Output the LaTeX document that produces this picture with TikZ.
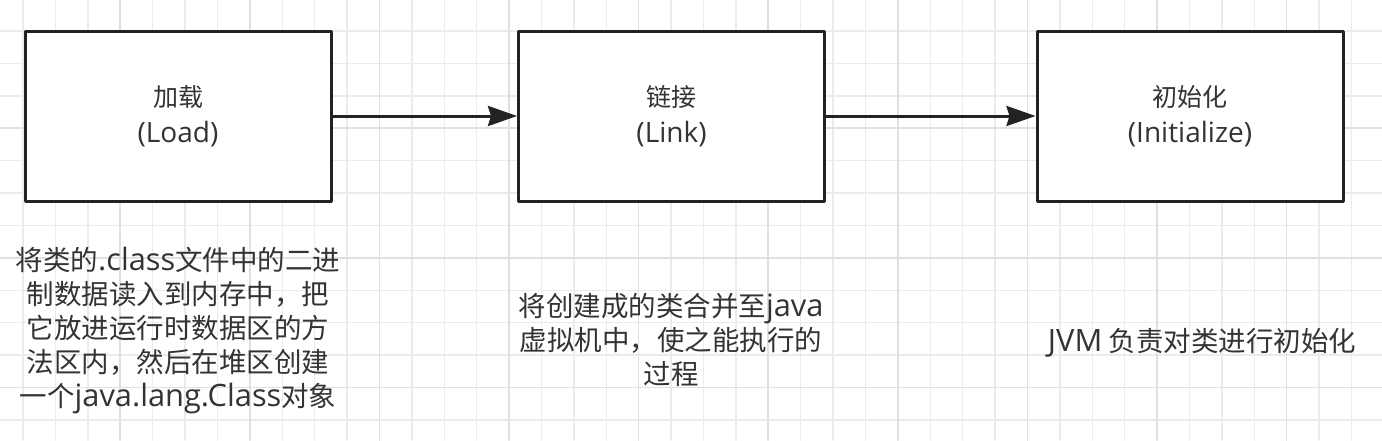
\documentclass[tikz,border=0pt]{standalone}
\usepackage{fontspec}
\setmainfont{Noto Sans CJK SC}
\newfontfamily\latn[Scale=1.12]{Open Sans}
\usetikzlibrary{arrows.meta}
\definecolor{gridgray}{HTML}{EBEBEB}
\definecolor{gridmajor}{HTML}{E0E0E0}
\definecolor{inkgray}{HTML}{333333}
\definecolor{boxline}{HTML}{222222}

\begin{document}
\begin{tikzpicture}[x=1pt,y=-1pt,>={Stealth[length=29pt,width=20pt,inset=3pt]},line cap=round,line join=round,
  stagebox/.style={draw=boxline,line width=3pt,fill=white,minimum width=306pt,minimum height=170pt,inner sep=0pt,
    align=center,text=inkgray,font=\fontsize{25}{36}\selectfont},
  note/.style={align=center,text=inkgray,inner sep=0pt,font=\fontsize{27.5}{34}\selectfont},
  flow/.style={->,draw=boxline,line width=3pt,line cap=butt}]
\useasboundingbox (0,0) rectangle (1382,440);
\fill[white] (0,0) rectangle (1382,440);
% grid
\foreach \i [evaluate=\i as \gx using 23+32.4*\i] in {0,...,42}
  \draw[gridgray,line width=1.4pt] (\gx,0) -- (\gx,440);
\foreach \j [evaluate=\j as \gy using 31+32.4*\j] in {-1,...,13}
  \draw[gridgray,line width=1.4pt] (0,\gy) -- (1382,\gy);
\foreach \i [evaluate=\i as \gx using 23+32.4*\i] in {3,7,...,42}
  \draw[gridmajor,line width=1.6pt] (\gx,0) -- (\gx,440);
\foreach \j [evaluate=\j as \gy using 31+32.4*\j] in {3,7,11}
  \draw[gridmajor,line width=1.6pt] (0,\gy) -- (1382,\gy);
% stages
\node[stagebox] (load) at (178,116) {加载\\{\latn (Load)}};
\node[stagebox] (link) at (671.5,116) {链接\\{\latn (Link)}};
\node[stagebox] (init) at (1190,116) {初始化\\{\latn (Initialize)}};
\draw[flow] (load) -- (link);
\draw[flow] (link) -- (init);
% notes
\node[note] (loadnote) at (178,330) {将类的{\latn .class}文件中的二进\\制数据读入到内存中，把\\它放进运行时数据区的方\\法区内，然后在堆区创建\\一个{\latn java.lang.Class}对象};
\node[note] (linknote) at (671,340) {将创建成的类合并至{\latn java}\\虚拟机中，使之能执行的\\过程};
\node[note] (initnote) at (1202,343) {{\latn JVM} 负责对类进行初始化};
\end{tikzpicture}
\end{document}
